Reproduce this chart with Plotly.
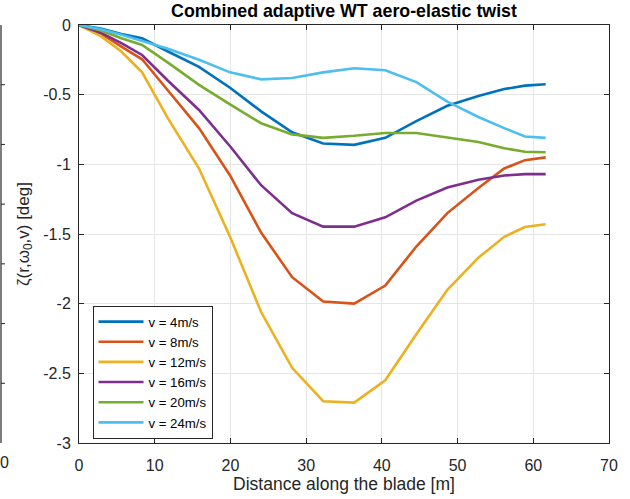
import plotly.graph_objects as go

# Blade stations [m]
r = [0, 2.8667, 5.6, 8.3333, 11.75, 15.85, 19.95, 24.05, 28.15, 32.25,
     36.35, 40.45, 44.55, 48.65, 52.75, 56.1667, 58.9, 61.6333]

v4 = [0, -0.025, -0.065, -0.095, -0.19, -0.30, -0.45, -0.62, -0.77, -0.85,
      -0.86, -0.81, -0.69, -0.58, -0.51, -0.46, -0.435, -0.425]
v8 = [0, -0.06, -0.155, -0.246, -0.47, -0.74, -1.08, -1.49, -1.81, -1.985,
      -2.00, -1.87, -1.59, -1.35, -1.17, -1.03, -0.97, -0.95]
v12 = [0, -0.08, -0.19, -0.34, -0.67, -1.03, -1.52, -2.06, -2.46, -2.70,
       -2.71, -2.55, -2.22, -1.90, -1.67, -1.52, -1.45, -1.43]
v16 = [0, -0.055, -0.13, -0.215, -0.40, -0.61, -0.87, -1.15, -1.35, -1.447,
       -1.447, -1.38, -1.26, -1.167, -1.11, -1.08, -1.07, -1.07]
v20 = [0, -0.04, -0.095, -0.143, -0.27, -0.43, -0.57, -0.705, -0.785, -0.81,
       -0.795, -0.775, -0.775, -0.806, -0.84, -0.885, -0.91, -0.913]
v24 = [0, -0.03, -0.07, -0.115, -0.17, -0.25, -0.34, -0.39, -0.38, -0.34,
       -0.31, -0.325, -0.41, -0.55, -0.66, -0.74, -0.80, -0.81]

series = [("v = 4m/s", v4, "#0072BD"), ("v = 8m/s", v8, "#D95319"),
          ("v = 12m/s", v12, "#EDB120"), ("v = 16m/s", v16, "#7E2F8E"),
          ("v = 20m/s", v20, "#77AC30"), ("v = 24m/s", v24, "#4DBEEE")]

xticks = [0, 10, 20, 30, 40, 50, 60, 70]
yticks = [0, -0.5, -1, -1.5, -2, -2.5, -3]
ytick_labels = ["0", "-0.5", "-1", "-1.5", "-2", "-2.5", "-3"]

fig = go.Figure()
for name, vals, col in series:
    fig.add_trace(go.Scatter(x=r, y=vals, mode="lines", name=name,
                             line=dict(color=col, width=2.6)))

axcol = "#262626"
fig.update_layout(
    width=630, height=499,
    margin=dict(l=79, r=21, t=25, b=56, autoexpand=False),
    paper_bgcolor="white", plot_bgcolor="white",
    font=dict(family="Liberation Sans, Arial, sans-serif", size=15, color=axcol),
    title=dict(text="<b>Combined adaptive WT aero-elastic twist</b>",
               x=(79 + 265) / 630, xanchor="center", y=1 - 11 / 499, yanchor="middle",
               font=dict(size=17.8, color="black")),
    xaxis=dict(range=[0, 70], tickvals=xticks, showgrid=True, gridcolor="#e5e5e5",
               gridwidth=1, zeroline=False, showline=True, linecolor=axcol, linewidth=1,
               mirror="ticks", ticks="inside", ticklen=5, tickcolor=axcol,
               automargin=False, ticklabelstandoff=8,
               title=dict(text="Distance along the blade [m]", font=dict(size=17.5), standoff=4),
               tickfont=dict(size=16)),
    yaxis=dict(range=[-3, 0], tickvals=yticks, ticktext=ytick_labels, showgrid=True,
               gridcolor="#e5e5e5", gridwidth=1, zeroline=False, showline=True,
               linecolor=axcol, linewidth=1, mirror="ticks", ticks="inside", ticklen=5,
               tickcolor=axcol, automargin=False, ticklabelstandoff=4,
               title=dict(text="ζ(r,ω<sub>0</sub>,v) [deg]", font=dict(size=17), standoff=9),
               tickfont=dict(size=16)),
    legend=dict(x=(92.5 - 79) / 530, y=(443 - 305.5) / 418, xanchor="left", yanchor="top",
                bgcolor="white", bordercolor=axcol, borderwidth=1,
                font=dict(size=13.2, color="black"), tracegroupgap=0,
                itemwidth=45),
)

# Remnant of a neighbouring axis at the far left edge
xl = (1 - 79) / 530
fig.add_shape(type="line", xref="paper", yref="paper", x0=xl, x1=xl, y0=0, y1=1,
              line=dict(color=axcol, width=1.2))
for k in range(1, 7):
    yy = k / 7
    fig.add_shape(type="line", xref="paper", yref="paper", x0=xl, x1=xl + 4 / 530,
                  y0=yy, y1=yy, line=dict(color=axcol, width=1))
fig.add_annotation(text="0", xref="paper", yref="paper", x=(4 - 79) / 530, y=0,
                   xanchor="center", yanchor="middle", yshift=-19,
                   showarrow=False, font=dict(size=16, color=axcol))

fig.write_html("out.html", config={"displayModeBar": False},
               post_script="document.body.style.margin='0';")
